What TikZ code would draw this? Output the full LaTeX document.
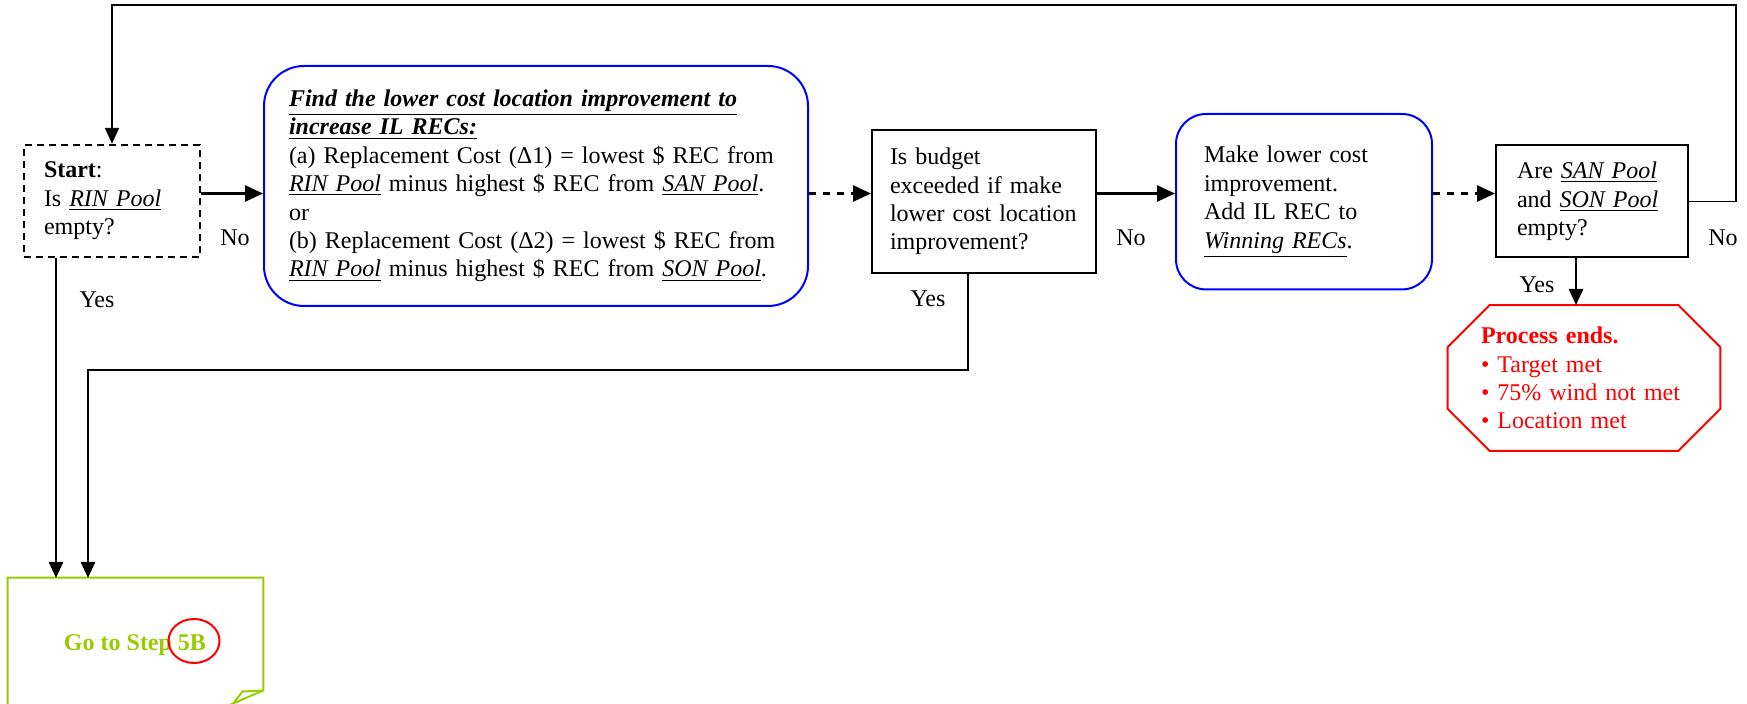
\documentclass[tikz,border=0pt]{standalone}
\usepackage{fontspec}
\setmainfont{Liberation Serif}
\usetikzlibrary{arrows.meta,shapes.geometric}
\definecolor{stepgreen}{RGB}{153,204,0}

\begin{document}
\begin{tikzpicture}[x=0.5pt,y=-0.5pt,
    font=\fontsize{12pt}{14.2pt}\selectfont,
    every node/.style={inner sep=0pt},
    plainbox/.style={draw,line width=1pt,align=left},
    roundbox/.style={draw=blue,line width=1pt,rounded corners=#1,align=left},
    flow/.style={line width=1.4pt,-{Triangle[length=9pt,width=8pt]}},
    dflow/.style={flow,dash pattern=on 3.5pt off 3.5pt},
    link/.style={line width=1.2pt,-{Triangle[length=8pt,width=7pt]}},
  ]
  \clip (0,0) rectangle (1747,704);

  % boxes
  \node[plainbox,line width=1.2pt,dash pattern=on 3.5pt off 2.5pt,minimum width=88pt,minimum height=56pt,text width=68pt] (start) at (112,201)
    {\textbf{Start}:\\ Is \underline{\textit{RIN Pool}}\\ empty?};
  \node[roundbox=20pt,minimum width=272pt,minimum height=120pt,text width=247pt] (findcost) at (536,186)
    {\underline{\textbf{\textit{Find the lower cost location improvement to}}}\\
     \underline{\textbf{\textit{increase IL RECs:}}}\\
     (a) Replacement Cost (Δ1) = lowest \$ REC from\\
     \underline{\textit{RIN Pool}} minus highest \$ REC from \underline{\textit{SAN Pool}}.\\
     or\\
     (b) Replacement Cost (Δ2) = lowest \$ REC from\\
     \underline{\textit{RIN Pool}} minus highest \$ REC from \underline{\textit{SON Pool}}.};
  \node[plainbox,minimum width=112pt,minimum height=71.5pt,text width=94pt] (budget) at (984,201.6)
    {Is budget\\ exceeded if make\\ lower cost location\\ improvement?};
  \node[roundbox=15pt,minimum width=128pt,minimum height=87.7pt,text width=100pt] (improve) at (1304,201.7)
    {Make lower cost\\ improvement.\\ Add IL REC to\\ \underline{\textit{Winning RECs}}.};
  \node[plainbox,minimum width=96pt,minimum height=56pt,text width=75pt] (sanson) at (1592,201.5)
    {Are \underline{\textit{SAN Pool}}\\ and \underline{\textit{SON Pool}}\\ empty?};

  % end of process
  \node[text=red,align=left,minimum width=136pt,minimum height=72.5pt,text width=103pt] (ends) at (1584,378)
    {\textbf{Process ends.}\\ • Target met\\ • 75\% wind not met\\ • Location met};
  \draw[red,line width=1pt] ([xshift=21pt]ends.north west) -- ([xshift=-21pt]ends.north east)
    -- ([yshift=-21pt]ends.north east) -- ([yshift=21pt]ends.south east)
    -- ([xshift=-21pt]ends.south east) -- ([xshift=21pt]ends.south west)
    -- ([yshift=21pt]ends.south west) -- ([yshift=-21pt]ends.north west) -- cycle;

  % go to step 5B
  \node[minimum width=127.5pt,minimum height=64pt] (goto) at (135.5,642) {};
  \draw[stepgreen,line width=1pt] ([xshift=-18.5pt]goto.south east) -- ([yshift=8pt]goto.south east)
    -- (goto.north east) -- (goto.north west) -- (goto.south west);
  \draw[stepgreen,line width=1pt] ([yshift=8pt]goto.south east) .. controls ([shift={(-6pt,7.6pt)}]goto.south east) .. ([shift={(-10.5pt,7.5pt)}]goto.south east)
    -- ([shift={(-15pt,1.5pt)}]goto.south east);
  \node[text=stepgreen,font=\fontsize{12pt}{14pt}\selectfont\bfseries] (gototext) at (135,645) {Go to Step 5B};
  \node[ellipse,draw=red,line width=1pt,minimum width=25.5pt,minimum height=22pt] (stepmark) at (194,641) {};

  % labels
  \node (nostart) at (235,238) {No};
  \node (yesstart) at (97,300) {Yes};
  \node (nobudget) at (1131,238) {No};
  \node (yesbudget) at (928,299) {Yes};
  \node (nosanson) at (1723,238) {No};
  \node (yessanson) at (1537,285) {Yes};

  % connectors
  \coordinate (flowrow) at (0,193.5);
  \coordinate (loopcorner) at (1736,5);
  \coordinate (gotoin1) at (56,578);
  \coordinate (gotoin2) at (88,578);
  \coordinate (budgetturn) at (968,370);
  \coordinate (endsin) at (1576,305);

  \draw[flow] (start.east |- flowrow) -- (findcost.west |- flowrow);
  \draw[dflow] (findcost.east |- flowrow) -- (budget.west |- flowrow);
  \draw[flow] (budget.east |- flowrow) -- (improve.west |- flowrow);
  \draw[dflow] (improve.east |- flowrow) -- (sanson.west |- flowrow);
  \draw[link,line width=0.9pt] (sanson.east) -| (loopcorner) -| (start.north);
  \draw[link] (start.south -| gotoin1) -- (gotoin1);
  \draw[link] (budget.south -| budgetturn) -- (budgetturn) -| (gotoin2);
  \draw[link] (sanson.south -| endsin) -- (endsin);
\end{tikzpicture}
\end{document}
